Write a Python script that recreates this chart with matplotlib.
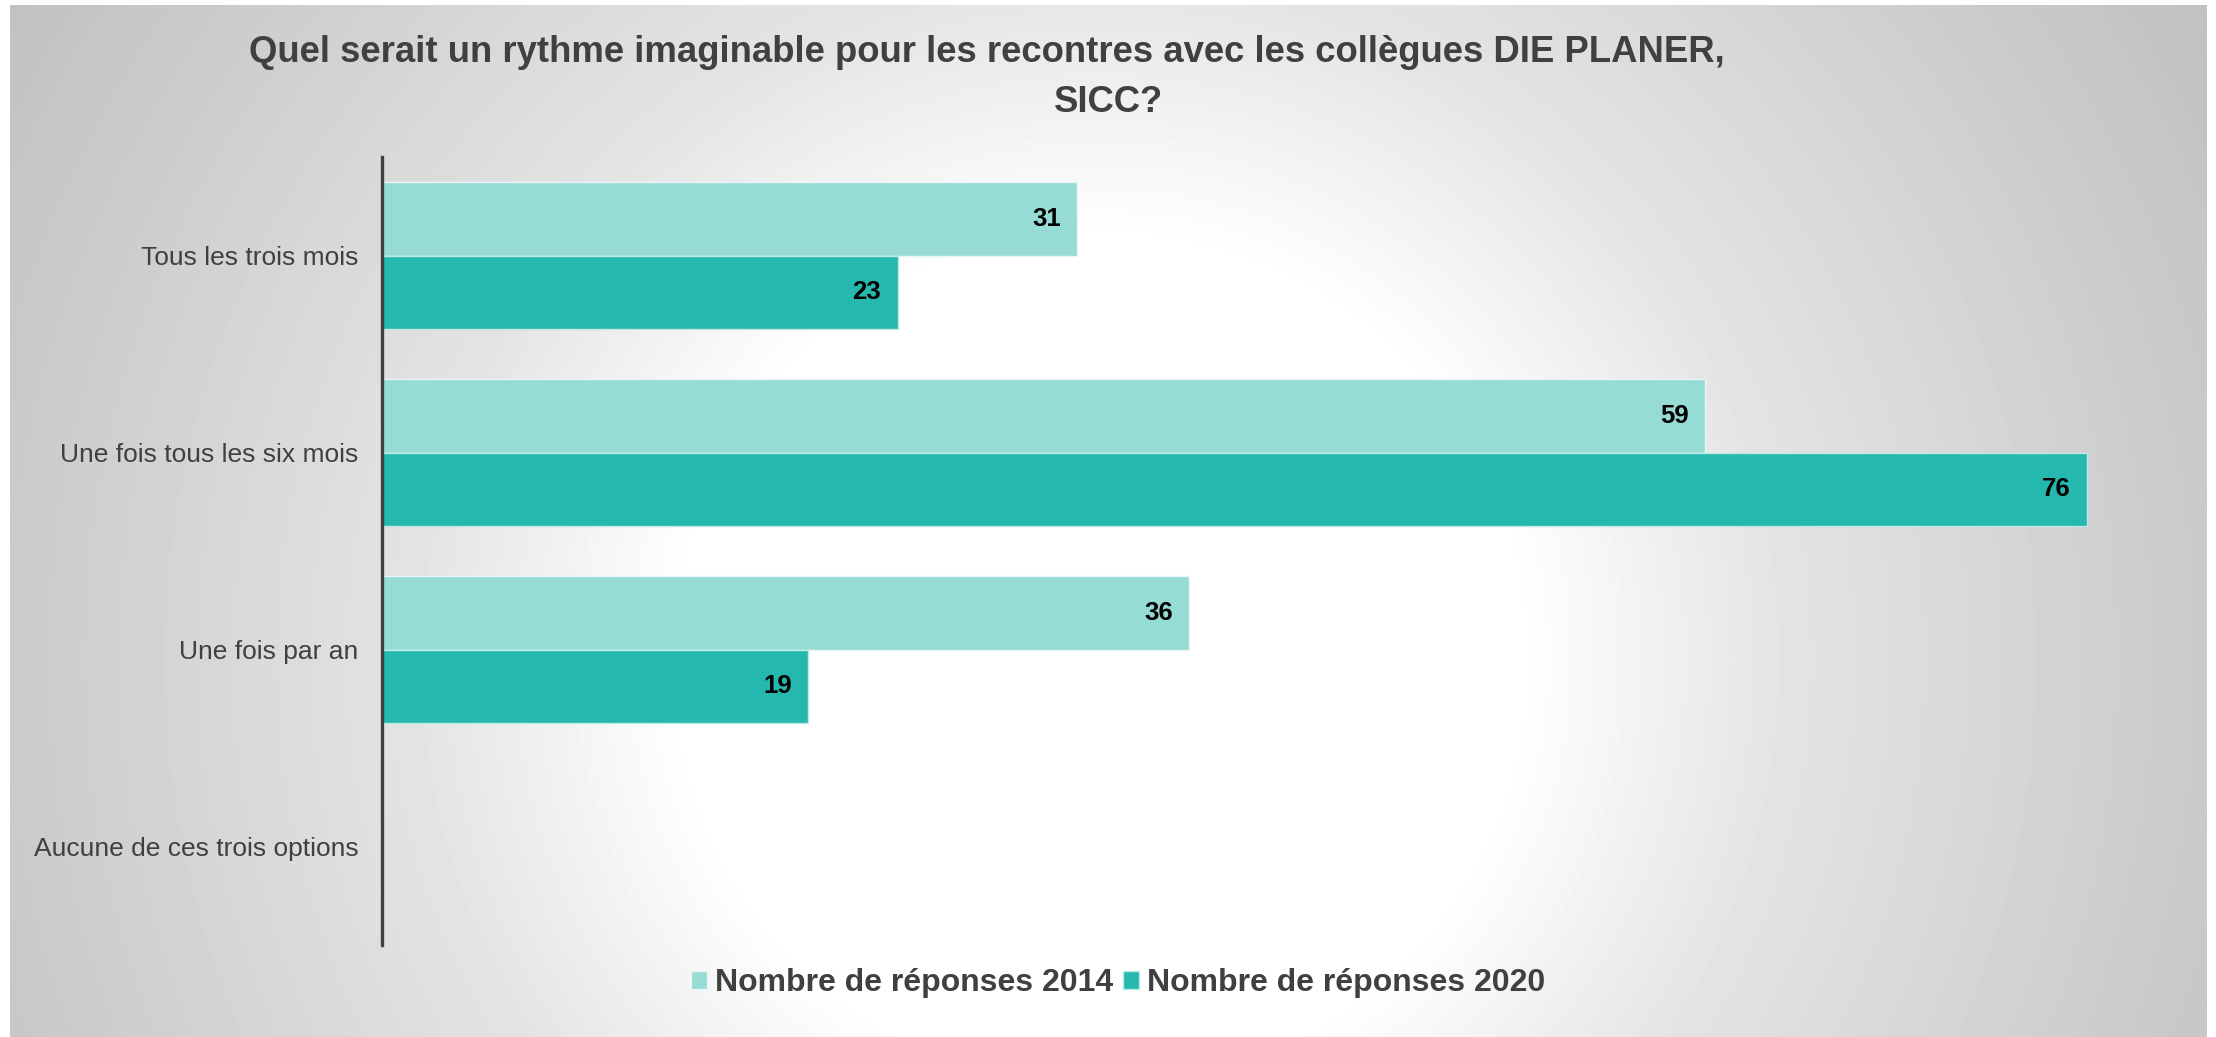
import matplotlib.pyplot as plt
import numpy as np

plt.rcParams['font.family'] = ['Liberation Sans', 'DejaVu Sans']

categories = ["Tous les trois mois", "Une fois tous les six mois",
              "Une fois par an", "Aucune de ces trois options"]
rep_2014 = [31, 59, 36, np.nan]
rep_2020 = [23, 76, 19, np.nan]
series_names = ["Nombre de réponses 2014", "Nombre de réponses 2020"]
title_l1 = "Quel serait un rythme imaginable pour les recontres avec les collègues DIE PLANER,"
title_l2 = "SICC?"

c2014 = "#96dcd4"
c2020 = "#24b8ae"
dark = "#404040"

W, H = 2216, 1037
fig = plt.figure(figsize=(W / 100, H / 100), dpi=100)

# radial grey background of the chart box (white core, grey corners)
bg = fig.add_axes([0, 0, 1, 1], zorder=-5)
bg.set_axis_off()
x0, x1, y0, y1 = 10, 2207, 5, 1037
xx, yy = np.meshgrid(np.arange(x0, x1), np.arange(y0, y1))
d = np.hypot(xx - 1100, yy - 660)
v = np.interp(d, [0, 420, 680, 1100, 1300], [255, 255, 228, 202, 192]) / 255
bg.imshow(v, cmap="gray", vmin=0, vmax=1, extent=(x0, x1, y1, y0), aspect="auto")
bg.set_xlim(0, W)
bg.set_ylim(H, 0)

ax = fig.add_axes([382 / W, 1 - 945 / H, 80 * 22.43 / W, (945 - 157) / H])
ax.patch.set_alpha(0)

y = np.arange(len(categories))
h = 0.375
b1 = ax.barh(y - h / 2, rep_2014, height=h, color=c2014, edgecolor="#e6f6f4", linewidth=1, label=series_names[0])
b2 = ax.barh(y + h / 2, rep_2020, height=h, color=c2020, edgecolor="#bfe9e5", linewidth=1, label=series_names[1])

for bars, vals in ((b1, rep_2014), (b2, rep_2020)):
    for bar, val in zip(bars, vals):
        if np.isnan(val):
            continue
        ax.annotate(f"{val:.0f}", (bar.get_width(), bar.get_y() + bar.get_height() / 2),
                    xytext=(-12, 0), textcoords="offset points", ha="right", va="center",
                    fontsize=18.5, fontweight="bold", color="black")

ax.set_xlim(0, 80)
ax.set_ylim(3.5, -0.5)
ax.set_yticks(y)
ax.set_yticklabels(categories, fontsize=19, color=dark)
ax.tick_params(axis="y", length=0, pad=17)
ax.set_xticks([])
for s in ("top", "right", "bottom"):
    ax.spines[s].set_visible(False)
ax.spines["left"].set_color(dark)
ax.spines["left"].set_linewidth(2.4)

fig.text(987 / W, 1 - 52 / H, title_l1, ha="center", va="center", fontsize=26.3, fontweight="bold", color=dark)
fig.text(1109 / W, 1 - 103 / H, title_l2, ha="center", va="center", fontsize=26.3, fontweight="bold", color=dark)

fig.legend(handles=[b1, b2], loc="center", bbox_to_anchor=(1118 / W, 1 - 983 / H), ncol=2, frameon=False,
           prop={"size": 23, "weight": "bold"}, labelcolor=dark, handlelength=0.5, handleheight=0.5,
           handletextpad=0.25, columnspacing=0.3)

fig.savefig("out.png", dpi=100)
